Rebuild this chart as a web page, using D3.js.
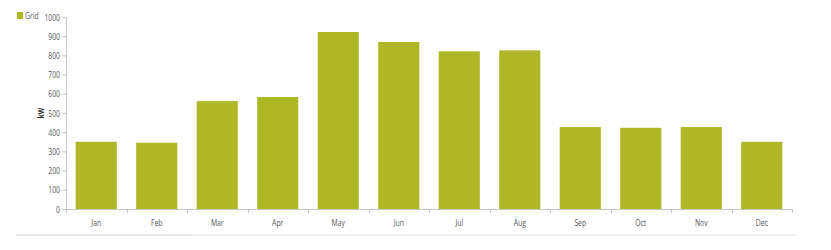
<!DOCTYPE html>
<html><head><meta charset="utf-8">
<script src="https://cdnjs.cloudflare.com/ajax/libs/d3/7.8.5/d3.min.js"></script>
<style>body{margin:0;background:#fff;}svg{display:block;font-family:"Open Sans",sans-serif;}</style>
</head><body>
<svg id="c" width="831" height="250"></svg>
<script>
const months = ["Jan","Feb","Mar","Apr","May","Jun","Jul","Aug","Sep","Oct","Nov","Dec"];
const grid = [350, 345, 562, 583, 922, 870, 821, 826, 427, 423, 427, 350];
const yTicks = [0,100,200,300,400,500,600,700,800,900,1000];
const seriesName = "Grid";
const unit = "kW";

const svg = d3.select("#c");
const m = {l:66, r:792, t:17, b:209};
const x = d3.scaleBand().domain(months).range([m.l, m.r]).paddingInner(0.32).paddingOuter(0.16);
const y = d3.scaleLinear().domain([0,1000]).range([m.b, m.t]);
const color = "#aeb826";
const axisCol = "#c8c8c8";
const textCol = "#555";
const sx = 0.72;
const fam = "'Open Sans',sans-serif";

// navigator-like faint line
svg.append("rect").attr("x",16).attr("y",234).attr("width",781).attr("height",2).attr("fill","#f2f2f2");
svg.append("rect").attr("x",16).attr("y",234).attr("width",176).attr("height",2).attr("fill","#e8e8e8");

// bars
svg.selectAll("rect.bar").data(grid).enter().append("rect").attr("class","bar")
  .attr("x",(d,i)=>x(months[i])).attr("width",x.bandwidth())
  .attr("y",d=>y(d)).attr("height",d=>y(0)-y(d)).attr("fill",color);

// y axis
const ya = svg.append("g").attr("transform",`translate(${m.l},0)`)
  .call(d3.axisLeft(y).tickValues(yTicks).tickSize(4).tickPadding(2).tickFormat(d3.format("d")));
ya.select(".domain").attr("stroke",axisCol);
ya.selectAll(".tick line").attr("stroke",axisCol);
ya.selectAll("text").attr("fill",textCol).style("font-size","9.5px").attr("font-family",fam)
  .attr("x",-6/sx).attr("transform",`scale(${sx},1)`);

// x axis
const xa = svg.append("g").attr("transform",`translate(0,${m.b})`)
  .call(d3.axisBottom(x).tickSize(0).tickPadding(10));
xa.select(".domain").attr("stroke",axisCol).attr("d",`M${m.l},0.5H${m.r}`);
xa.selectAll("text").attr("fill",textCol).style("font-size","9.5px").attr("font-family",fam)
  .attr("transform",`scale(${sx},1)`);
const bounds = d3.range(0, months.length+1).map(i => m.l + i*(m.r-m.l)/months.length);
xa.selectAll("line.sep").data(bounds).enter().append("line").attr("class","sep")
  .attr("x1",d=>Math.round(d)+0.5).attr("x2",d=>Math.round(d)+0.5).attr("y1",0).attr("y2",4).attr("stroke",axisCol);

// y label
svg.append("text").attr("transform",`translate(44,113) rotate(-90) scale(${sx},1)`).attr("text-anchor","middle")
  .attr("fill","#333").style("font-size","9.5px").attr("font-weight","bold").attr("font-family",fam).text(unit);

// legend
svg.append("rect").attr("x",17).attr("y",12).attr("width",6).attr("height",7).attr("fill",color);
svg.append("text").attr("transform",`translate(25,19) scale(${sx},1)`).attr("fill",textCol).style("font-size","9.5px")
  .attr("font-family",fam).text(seriesName);
</script>
</body></html>
